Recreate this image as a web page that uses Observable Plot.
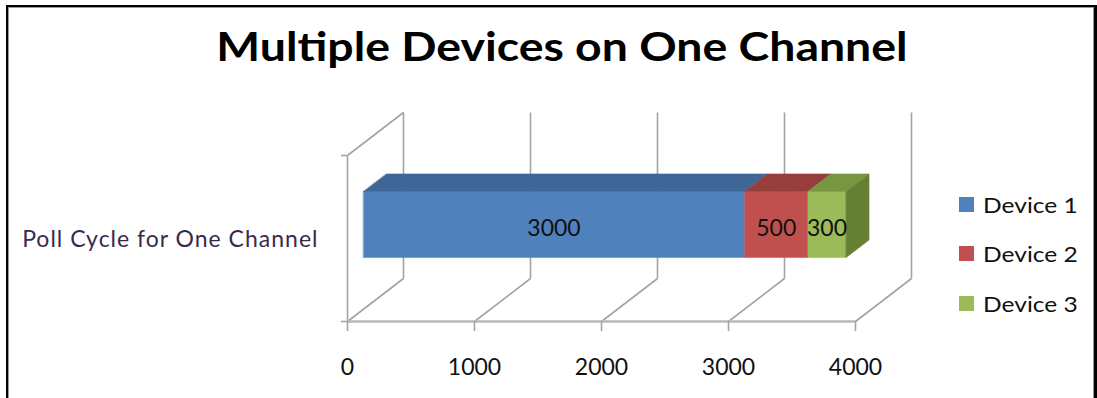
<!DOCTYPE html>
<html><head><meta charset="utf-8">
<script src="https://cdn.jsdelivr.net/npm/d3@7"></script>
<script src="https://cdn.jsdelivr.net/npm/@observablehq/plot@0.6"></script>
<style>
body{margin:0;background:#fff;}
#wrap{position:relative;width:1097px;height:398px;overflow:hidden;font-family:Lato,"Open Sans",sans-serif;color:#111;}
#frame{position:absolute;left:6px;top:5px;width:1086px;height:420px;border-left:2px solid #000;border-top:2px solid #000;border-right:3px solid #000;box-shadow:inset 1px 1px 0 #9a9a9a,inset -1px 0 0 #9a9a9a;}
#title{position:absolute;left:0;width:1124px;top:26px;line-height:40px;text-align:center;font-weight:700;font-size:40px;color:#000;white-space:nowrap;transform:scaleX(1.16);transform-origin:562px 0;}
#chart{position:absolute;left:0;top:0;}
.lg{position:absolute;left:959px;height:20px;display:flex;align-items:center;font-size:21px;white-space:nowrap;color:#111;}
.lg span.sw{display:inline-block;width:15px;height:15px;margin-right:9px;}
.lg span.tx{display:inline-block;transform:scaleX(1.17);transform-origin:0 50%;}
</style>
</head><body>
<div id="wrap">
  <div id="frame"></div>
  <div id="chart"></div>
  <div id="title"></div>
  <div id="legend"></div>
</div>
<script>
// ---- data ----
const chartTitle = "Multiple Devices on One Channel";
const categories = ["Poll Cycle for One Channel"];
const devices = ["Device 1", "Device 2", "Device 3"];
const values = [3000, 500, 300];
const frontColors = ["#4F81BD", "#C0504D", "#9BBB59"];
const topColors = ["#3E6797", "#963E3B", "#789640"];
const sideColors = ["#38608C", "#8A3836", "#657F33"];
const xTicks = [0, 1000, 2000, 3000, 4000];

// ---- layout (3D oblique projection) ----
const W = 1097, H = 398;
const mL = 347, mR = W - 855, mT = 155, mB = H - 321;
const pxPerX = (W - mL - mR) / 4000;      // px per value unit
const pxPerY = (H - mT - mB) / 1;          // px per wall-height unit
const DEPTH_PX = [56, 43];                 // back wall offset (right, up)
const dX = DEPTH_PX[0] / pxPerX;           // depth -> value units
const dY = DEPTH_PX[1] / pxPerY;           // depth -> height units
const proj = (v, h, d) => ({x: v + d * dX, y: h + d * dY});

// bar geometry (in depth / height units)
const d0 = 16 / 56, d1 = d0 + 0.41;
const hb = 0.311, ht = 0.709;

// ---- gridlines / walls ----
const grid = [];
for (const v of xTicks) {
  const a = proj(v, 0, 1), b = proj(v, 1, 1);
  grid.push({x1: a.x, y1: a.y, x2: b.x, y2: b.y});           // back wall vertical
  const c = proj(v, 0, 0);
  grid.push({x1: c.x, y1: c.y, x2: a.x, y2: a.y});           // floor diagonal
}
{
  const a = proj(0, 0, 0), b = proj(0, 1, 0), c = proj(0, 1, 1);
  grid.push({x1: a.x, y1: a.y, x2: b.x, y2: b.y});           // left wall front edge
  grid.push({x1: b.x, y1: b.y, x2: c.x, y2: c.y});           // left wall top edge
}
const floorFront = [{x1: 0, y1: 0, x2: 4000, y2: 0}];
const stub = -6 / pxPerX;                                     // wall tick stub length

// ---- bar faces ----
const faces = [];
const labels = [];
let cum = 0;
values.forEach((val, i) => {
  const v0 = cum, v1 = cum + val;
  const poly = (pts, fill) => faces.push({pts: pts.map(([v, h, d]) => proj(v, h, d)), fill});
  poly([[v0, hb, d0], [v1, hb, d0], [v1, ht, d0], [v0, ht, d0]], frontColors[i]);
  poly([[v0, ht, d0], [v1, ht, d0], [v1, ht, d1], [v0, ht, d1]], topColors[i]);
  if (i === values.length - 1)
    poly([[v1, hb, d0], [v1, hb, d1], [v1, ht, d1], [v1, ht, d0]], sideColors[i]);
  const c = proj((v0 + v1) / 2, (hb + ht) / 2, d0);
  labels.push({x: c.x, y: c.y, text: String(val)});
  cum = v1;
});

const faceMarks = faces.map(f =>
  Plot.line(f.pts, {x: "x", y: "y", fill: f.fill, stroke: f.fill, strokeWidth: 0.5, curve: "linear-closed"})
);

const catPos = proj(0, 0.52, 0);

const plot = Plot.plot({
  width: W, height: H,
  marginLeft: mL, marginRight: mR, marginTop: mT, marginBottom: mB,
  style: {background: "transparent", overflow: "visible"},
  x: {type: "linear", domain: [0, 4000], axis: null},
  y: {type: "linear", domain: [0, 1], axis: null},
  marks: [
    Plot.link(grid, {x1: "x1", y1: "y1", x2: "x2", y2: "y2", stroke: "#a3a3a3", strokeWidth: 1.6}),
    Plot.link(floorFront, {x1: "x1", y1: "y1", x2: "x2", y2: "y2", stroke: "#b8b8b8", strokeWidth: 2.6}),
    Plot.ruleY([0, 1], {x1: stub, x2: 0, stroke: "#a3a3a3", strokeWidth: 1.6}),
    Plot.axisX({ticks: xTicks, tickSize: 10, tickPadding: 27, stroke: "#a3a3a3", strokeWidth: 1.6,
      fontSize: 23, fill: "#111", tickFormat: d => String(d), fontFamily: "Lato"}),
    ...faceMarks,
    Plot.text(labels, {x: "x", y: "y", text: "text", fontSize: 23, fill: "#111", dy: 4, fontFamily: "Lato"}),
    Plot.text(categories, {x: catPos.x, y: catPos.y, text: d => d, textAnchor: "end", dx: -29, dy: 4,
      fontSize: 23, fill: "#3a2a4a", fontFamily: "Lato", className: "cat"})
  ]
});
document.getElementById("chart").appendChild(plot);
d3.select(plot).selectAll(".cat text").attr("letter-spacing", "1px");

document.getElementById("title").textContent = chartTitle;
const lg = document.getElementById("legend");
const legendY = [204, 253, 303];
devices.forEach((d, i) => {
  const el = document.createElement("div");
  el.className = "lg";
  el.style.top = (legendY[i] - 10) + "px";
  el.innerHTML = `<span class="sw" style="background:${frontColors[i]}"></span><span class="tx">${d}</span>`;
  lg.appendChild(el);
});
</script>
</body></html>
